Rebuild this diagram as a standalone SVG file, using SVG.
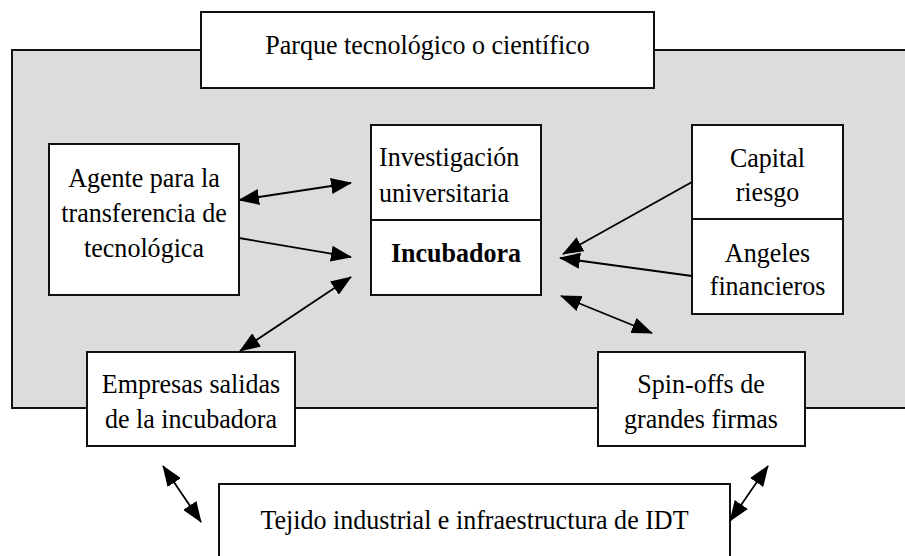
<svg xmlns="http://www.w3.org/2000/svg" width="905" height="556" viewBox="0 0 905 556">
<style>
.box{fill:#fff;stroke:#111;stroke-width:2}
.bg{fill:#dcdcdc;stroke:#111;stroke-width:2}
text{font-family:"Liberation Serif","Times New Roman",serif;font-size:28px;fill:#000}
.c{text-anchor:middle}
.b{font-weight:bold}
.ln{stroke:#000;stroke-width:1.8;fill:none}
</style>
<defs>
<marker id="ah" viewBox="0 0 21 16" refX="20" refY="8" markerWidth="21" markerHeight="16" markerUnits="userSpaceOnUse" orient="auto-start-reverse">
<path d="M0,0 L21,8 L0,16 z" fill="#000"/>
</marker>
</defs>
<rect class="bg" x="12" y="50" width="900" height="358"/>
<g id="parque">
<rect class="box" x="201" y="12" width="453" height="76"/>
<text class="c" transform="translate(427.5,54) scale(0.93,1)">Parque tecnológico o científico</text>
</g>
<g id="agente">
<rect class="box" x="49" y="144" width="190" height="151"/>
<text class="c" transform="translate(144,187) scale(0.93,1)">Agente para la</text>
<text class="c" transform="translate(144,222) scale(0.93,1)">transferencia de</text>
<text class="c" transform="translate(144,257) scale(0.93,1)">tecnológica</text>
</g>
<g id="investigacion">
<rect class="box" x="371" y="125" width="170" height="95"/>
<text transform="translate(379,166) scale(0.93,1)">Investigación</text>
<text transform="translate(379,202) scale(0.93,1)">universitaria</text>
</g>
<g id="incubadora">
<rect class="box" x="371" y="220" width="170" height="75"/>
<text class="c b" transform="translate(456,262) scale(0.93,1)">Incubadora</text>
</g>
<g id="capital">
<rect class="box" x="692" y="125" width="151" height="94"/>
<text class="c" transform="translate(767.5,167) scale(0.93,1)">Capital</text>
<text class="c" transform="translate(767.5,201) scale(0.93,1)">riesgo</text>
</g>
<g id="angeles">
<rect class="box" x="692" y="219" width="151" height="95"/>
<text class="c" transform="translate(767.5,262) scale(0.93,1)">Angeles</text>
<text class="c" transform="translate(767.5,295) scale(0.93,1)">financieros</text>
</g>
<g id="empresas">
<rect class="box" x="87" y="352" width="208" height="94"/>
<text class="c" transform="translate(191,393) scale(0.93,1)">Empresas salidas</text>
<text class="c" transform="translate(191,428) scale(0.93,1)">de la incubadora</text>
</g>
<g id="spinoffs">
<rect class="box" x="598" y="352" width="207" height="94"/>
<text class="c" transform="translate(701,393) scale(0.93,1)">Spin-offs de</text>
<text class="c" transform="translate(701,428) scale(0.93,1)">grandes firmas</text>
</g>
<g id="tejido">
<rect class="box" x="219" y="484" width="511" height="80"/>
<text class="c" transform="translate(474.5,529) scale(0.93,1)">Tejido industrial e infraestructura de IDT</text>
</g>
<g id="connectors">
<line class="ln" x1="239" y1="200" x2="351" y2="183" marker-start="url(#ah)" marker-end="url(#ah)"/>
<line class="ln" x1="239" y1="238" x2="351" y2="257" marker-end="url(#ah)"/>
<line class="ln" x1="240" y1="351" x2="351" y2="277" marker-start="url(#ah)" marker-end="url(#ah)"/>
<line class="ln" x1="692" y1="182" x2="563" y2="254" marker-end="url(#ah)"/>
<line class="ln" x1="692" y1="276" x2="560" y2="258" marker-end="url(#ah)"/>
<line class="ln" x1="561" y1="296" x2="652" y2="333" marker-start="url(#ah)" marker-end="url(#ah)"/>
<line class="ln" x1="163" y1="466" x2="201" y2="522" marker-start="url(#ah)" marker-end="url(#ah)"/>
<line class="ln" x1="768" y1="466" x2="730" y2="521" marker-start="url(#ah)" marker-end="url(#ah)"/>
</g>
</svg>
